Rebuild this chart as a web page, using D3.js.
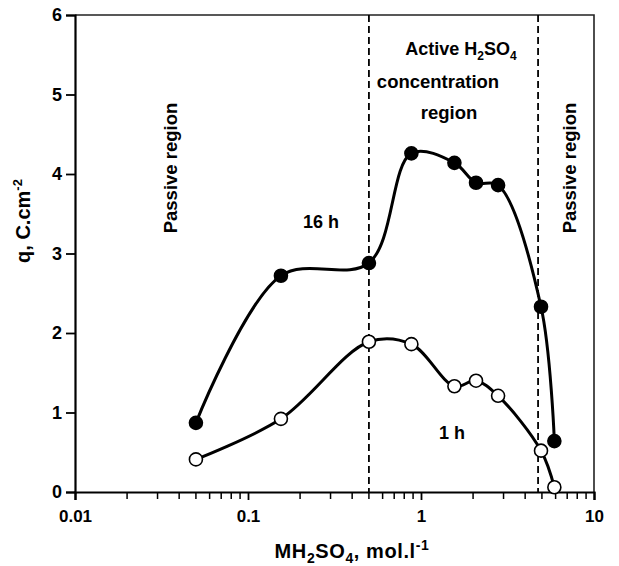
<!DOCTYPE html>
<html>
<head>
<meta charset="utf-8">
<script src="https://cdn.jsdelivr.net/npm/d3@7"></script>
<style>
  body { margin: 0; background: #fff; }
  svg { display: block; font-family: "Liberation Sans", Arial, sans-serif; font-weight: bold; }
</style>
</head>
<body>
<svg id="chart" width="619" height="566"></svg>
<script>
// concentrations (mol/l)
var conc = [0.05, 0.155, 0.5, 0.88, 1.56, 2.08, 2.79, 4.94, 5.9]
var q16h = [0.87, 2.72, 2.88, 4.26, 4.14, 3.89, 3.86, 2.33, 0.64]
var q1h  = [0.41, 0.92, 1.89, 1.86, 1.33, 1.40, 1.21, 0.52, 0.06]

var xTickLabels = [0.01, 0.1, 1, 10]
var yTickLabels = [0, 1, 2, 3, 4, 5, 6]
var regionBounds = [0.5, 4.75]

var margin = { top: 15, right: 25, bottom: 74, left: 75 },
  width = 619 - margin.left - margin.right,
  height = 566 - margin.top - margin.bottom;

var svg = d3.select("#chart")
var g = svg.append("g")
  .attr("transform", "translate(" + margin.left + "," + margin.top + ")")

var x = d3.scaleLog().domain([0.01, 10]).range([0, width])
var y = d3.scaleLinear().domain([0, 6]).range([height, 0])

// frame (top + right)
g.append("path")
  .attr("d", "M0,0H" + width + "V" + height)
  .attr("fill", "none")
  .attr("stroke", "#222")
  .attr("stroke-width", 1.6)

// minor + major ticks on x
var minor = []
for (var d = 0.01; d < 10; d *= 10) {
  for (var k = 2; k <= 9; k++) minor.push(d * k)
}

var xAxis = g.append("g").attr("transform", "translate(0," + height + ")")
xAxis.selectAll("line.minor").data(minor).enter().append("line")
  .attr("class", "minor")
  .attr("x1", d => x(d)).attr("x2", d => x(d))
  .attr("y1", 0).attr("y2", 7)
  .attr("stroke", "#000").attr("stroke-width", 1.5)
xAxis.call(d3.axisBottom(x).tickValues(xTickLabels).tickFormat(d3.format("")).tickSize(8).tickPadding(10))
xAxis.select(".domain").attr("stroke-width", 2.2)
xAxis.selectAll(".tick line").attr("stroke-width", 1.8)
xAxis.selectAll(".tick text").attr("font-size", 17).attr("font-weight", "bold")
  .attr("font-family", "Liberation Sans, Arial, sans-serif").attr("fill", "#000")

var yAxis = g.append("g")
yAxis.call(d3.axisLeft(y).tickValues(yTickLabels).tickFormat(d3.format("d")).tickSize(9).tickPadding(4))
yAxis.select(".domain").attr("stroke-width", 2.2)
yAxis.selectAll(".tick line").attr("stroke-width", 1.8)
yAxis.selectAll(".tick text").attr("font-size", 18).attr("font-weight", "bold")
  .attr("font-family", "Liberation Sans, Arial, sans-serif").attr("fill", "#000")

// region boundaries
g.selectAll("line.bound").data(regionBounds).enter().append("line")
  .attr("class", "bound")
  .attr("x1", d => x(d)).attr("x2", d => x(d))
  .attr("y1", 0).attr("y2", height)
  .attr("stroke", "#000")
  .attr("stroke-width", 1.8)
  .attr("stroke-dasharray", "7,4")

var line = d3.line()
  .x(d => x(d[0]))
  .y(d => y(d[1]))
  .curve(d3.curveCatmullRom.alpha(0.5))

var series = [
  { name: "16 h", values: d3.zip(conc, q16h), fill: "#000" },
  { name: "1 h", values: d3.zip(conc, q1h), fill: "#fff" }
]

series.forEach(function(s) {
  g.append("path")
    .datum(s.values)
    .attr("fill", "none")
    .attr("stroke", "#000")
    .attr("stroke-width", 3)
    .attr("d", line)
  g.selectAll(null).data(s.values).enter().append("circle")
    .attr("cx", d => x(d[0]))
    .attr("cy", d => y(d[1]))
    .attr("r", 6.5)
    .attr("fill", s.fill)
    .attr("stroke", "#000")
    .attr("stroke-width", 1.6)
})

// annotations
function label(px, py, size, rot) {
  return svg.append("text")
    .attr("text-anchor", "middle")
    .attr("font-size", size)
    .attr("transform", "translate(" + px + "," + py + ")" + (rot ? " rotate(" + rot + ")" : ""))
}

label(171, 168, 18.5, -90).append("tspan").attr("dy", "0.35em").text("Passive region")
label(570, 168, 18.5, -90).append("tspan").attr("dy", "0.35em").text("Passive region")
label(321, 228, 18).text("16 h")
label(452, 439, 18).text("1 h")

var act = label(461, 55, 18)
act.append("tspan").text("Active H")
act.append("tspan").attr("font-size", 12).attr("dy", 5).text("2")
act.append("tspan").attr("dy", -5).text("SO")
act.append("tspan").attr("font-size", 12).attr("dy", 5).text("4")
label(438, 88, 18.5).text("concentration")
label(449, 119, 18.5).text("region")

// axis titles
var yt = label(30, 221, 20, -90)
yt.append("tspan").text("q, C.cm")
yt.append("tspan").attr("font-size", 13).attr("dy", -8).text("-2")

var xt = label(352, 558, 20).attr("letter-spacing", 0.6)
xt.append("tspan").text("MH")
xt.append("tspan").attr("font-size", 14).attr("dy", 5).text("2")
xt.append("tspan").attr("dy", -5).text("SO")
xt.append("tspan").attr("font-size", 14).attr("dy", 5).text("4")
xt.append("tspan").attr("dy", -5).text(", mol.l")
xt.append("tspan").attr("font-size", 14).attr("dy", -8).text("-1")
</script>
</body>
</html>
